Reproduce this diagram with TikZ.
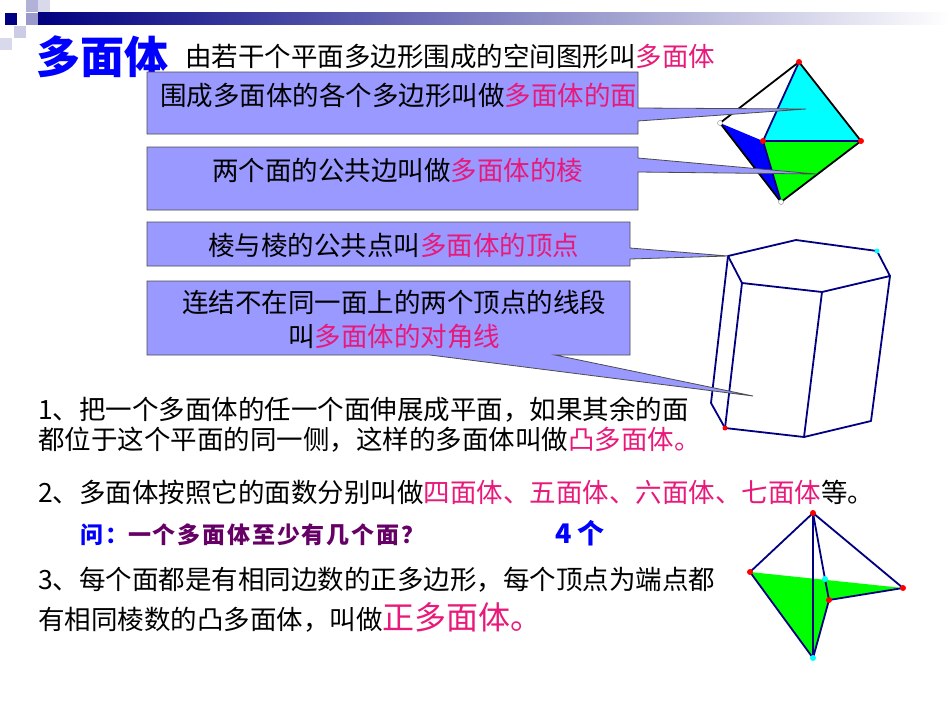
\documentclass[tikz,border=0pt]{standalone}
\usepackage{fontspec}
\newfontfamily\cjk{Noto Sans CJK SC}
\newfontfamily\cjkq[LetterSpace=8]{Noto Sans CJK SC}
\definecolor{pk}{HTML}{E8197A}
\definecolor{bx}{HTML}{9999FF}
\definecolor{nv}{HTML}{000080}
\definecolor{pu}{HTML}{660066}
\definecolor{cy}{HTML}{00FFFF}
\tikzset{
 txt/.style={anchor=west,inner sep=0pt,font=\cjk\fontsize{26.5}{30}\selectfont},
 callout/.style={fill=bx,draw=black!70,line width=0.8pt},
 edge/.style={draw=nv,line width=1.8pt,line join=round},
 bedge/.style={draw=black,line width=1.8pt,line join=round},
}
\begin{document}
\begin{tikzpicture}[x=1pt,y=-1pt]
\useasboundingbox (0,0) rectangle (950,713);
\fill[white] (0,0) rectangle (950,713);
% header decoration
\shade[left color=nv,right color=white] (38,12) rectangle (950,24);
\fill[nv] (5,13) rectangle (17,25);
\fill[nv!30] (26,0) rectangle (38,12);
\fill[nv!40] (26,13) rectangle (38,25);
\fill[nv!20] (14,26) rectangle (26,38);
\fill[nv!15] (0,38) rectangle (12,50);
\fill[nv!15] (38,0) rectangle (50,12);
% title
\node[txt,font=\cjk\bfseries\fontsize{44}{46}\selectfont,text=blue] (title) at (36,57) {多面体};
\node[txt] (def) at (185,56) {由若干个平面多边形围成的空间图形叫\textcolor{pk}{多面体}};
% octahedron
\coordinate (oT) at (799,62); \coordinate (oL) at (720,123); \coordinate (oM) at (763,141);
\coordinate (oR) at (861,141); \coordinate (oB) at (781,202);
\fill[cy] (oT)--(oM)--(oR)--cycle;
\fill[green] (oM)--(oR)--(oB)--cycle;
\fill[blue] (oL)--(oM)--(oB)--cycle;
\draw[bedge] (oT)--(oL)--(oB)--(oR)--cycle;
\draw[edge] (oT)--(oM)--(oR) (oM)--(oB);
\foreach \p in {oT,oM,oR} \fill[red] (\p) circle (3);
\foreach \p in {oL,oB} \filldraw[fill=white,draw=gray] (\p) circle (2.5);
% prism
\coordinate (pA) at (728,256); \coordinate (pB) at (796,240); \coordinate (pC) at (877,251);
\coordinate (pD) at (890,276); \coordinate (pE) at (822,292); \coordinate (pF) at (742,283);
\coordinate (pA2) at (711,403); \coordinate (pG) at (725,428); \coordinate (pH) at (804,437); \coordinate (pI) at (871,421);
\draw[edge] (pA)--(pB)--(pC)--(pD)--(pE)--(pF)--cycle;
\draw[edge] (pA)--(pA2)--(pG)--(pH)--(pI)--(pD);
\draw[edge] (pF)--(pG) (pE)--(pH);
\fill[cy] (pC) circle (2.5);
\fill[red] (pG) circle (2.5);
% callouts
\filldraw[callout] (147,72)--(638,72)--(638,108)--(806,109)--(638,121)--(638,134)--(147,134)--cycle;
\filldraw[callout] (147,147)--(638,147)--(638,158)--(816,174)--(638,172)--(638,210)--(147,210)--cycle;
\filldraw[callout] (147,222)--(630,222)--(630,248)--(728,256)--(630,259)--(630,266)--(147,266)--cycle;
\filldraw[callout] (147,281)--(630,281)--(630,355)--(555,355)--(753,396)--(430,355)--(147,355)--cycle;
\node[txt] (c1) at (160,95) {围成多面体的各个多边形叫做\textcolor{pk}{多面体的面}};
\node[txt] (c2) at (212,170) {两个面的公共边叫做\textcolor{pk}{多面体的棱}};
\node[txt] (c3) at (208,245) {棱与棱的公共点叫\textcolor{pk}{多面体的顶点}};
\node[txt] (c4a) at (182,302) {连结不在同一面上的两个顶点的线段};
\node[txt] (c4b) at (288,336) {叫\textcolor{pk}{多面体的对角线}};
% body text
\node[txt] (l1) at (38,410) {1、把一个多面体的任一个面伸展成平面，如果其余的面};
\node[txt] (l2) at (38,440) {都位于这个平面的同一侧，这样的多面体叫做\textcolor{pk}{凸多面体。}};
\node[txt] (l3) at (38,492) {2、多面体按照它的面数分别叫做\textcolor{pk}{四面体、五面体、六面体、七面体}等。};
\node[txt,font=\cjkq\bfseries\fontsize{23}{25}\selectfont,text=pu] (q) at (80,535) {\textcolor{blue}{问：}一个多面体至少有几个面？};
\node[txt,font=\cjk\bfseries\fontsize{27}{30}\selectfont,text=blue] (ans) at (555,533) {4 个};
\node[txt] (l4) at (38,580) {3、每个面都是有相同边数的正多边形，每个顶点为端点都};
\node[txt] (l5) at (38,617) {有相同棱数的凸多面体，叫做\textcolor{pk}{\fontsize{32}{34}\selectfont 正多面体。}};
% pyramid
\coordinate (yP) at (813,513); \coordinate (yL) at (750,572); \coordinate (yR) at (903,588);
\coordinate (yQ) at (829,600); \coordinate (yM) at (825,579); \coordinate (yB) at (813,658);
\fill[green] (yL)--(yR)--(yQ)--(yB)--cycle;
\draw[edge] (yP)--(yL)--(yB)--(yP)--(yR)--(yQ)--(yB) (yP)--(yM)--(yQ);
\foreach \p in {yP,yL,yR,yQ} \fill[red] (\p) circle (3);
\foreach \p in {yM,yB} \fill[cy] (\p) circle (3);
\end{tikzpicture}
\end{document}
